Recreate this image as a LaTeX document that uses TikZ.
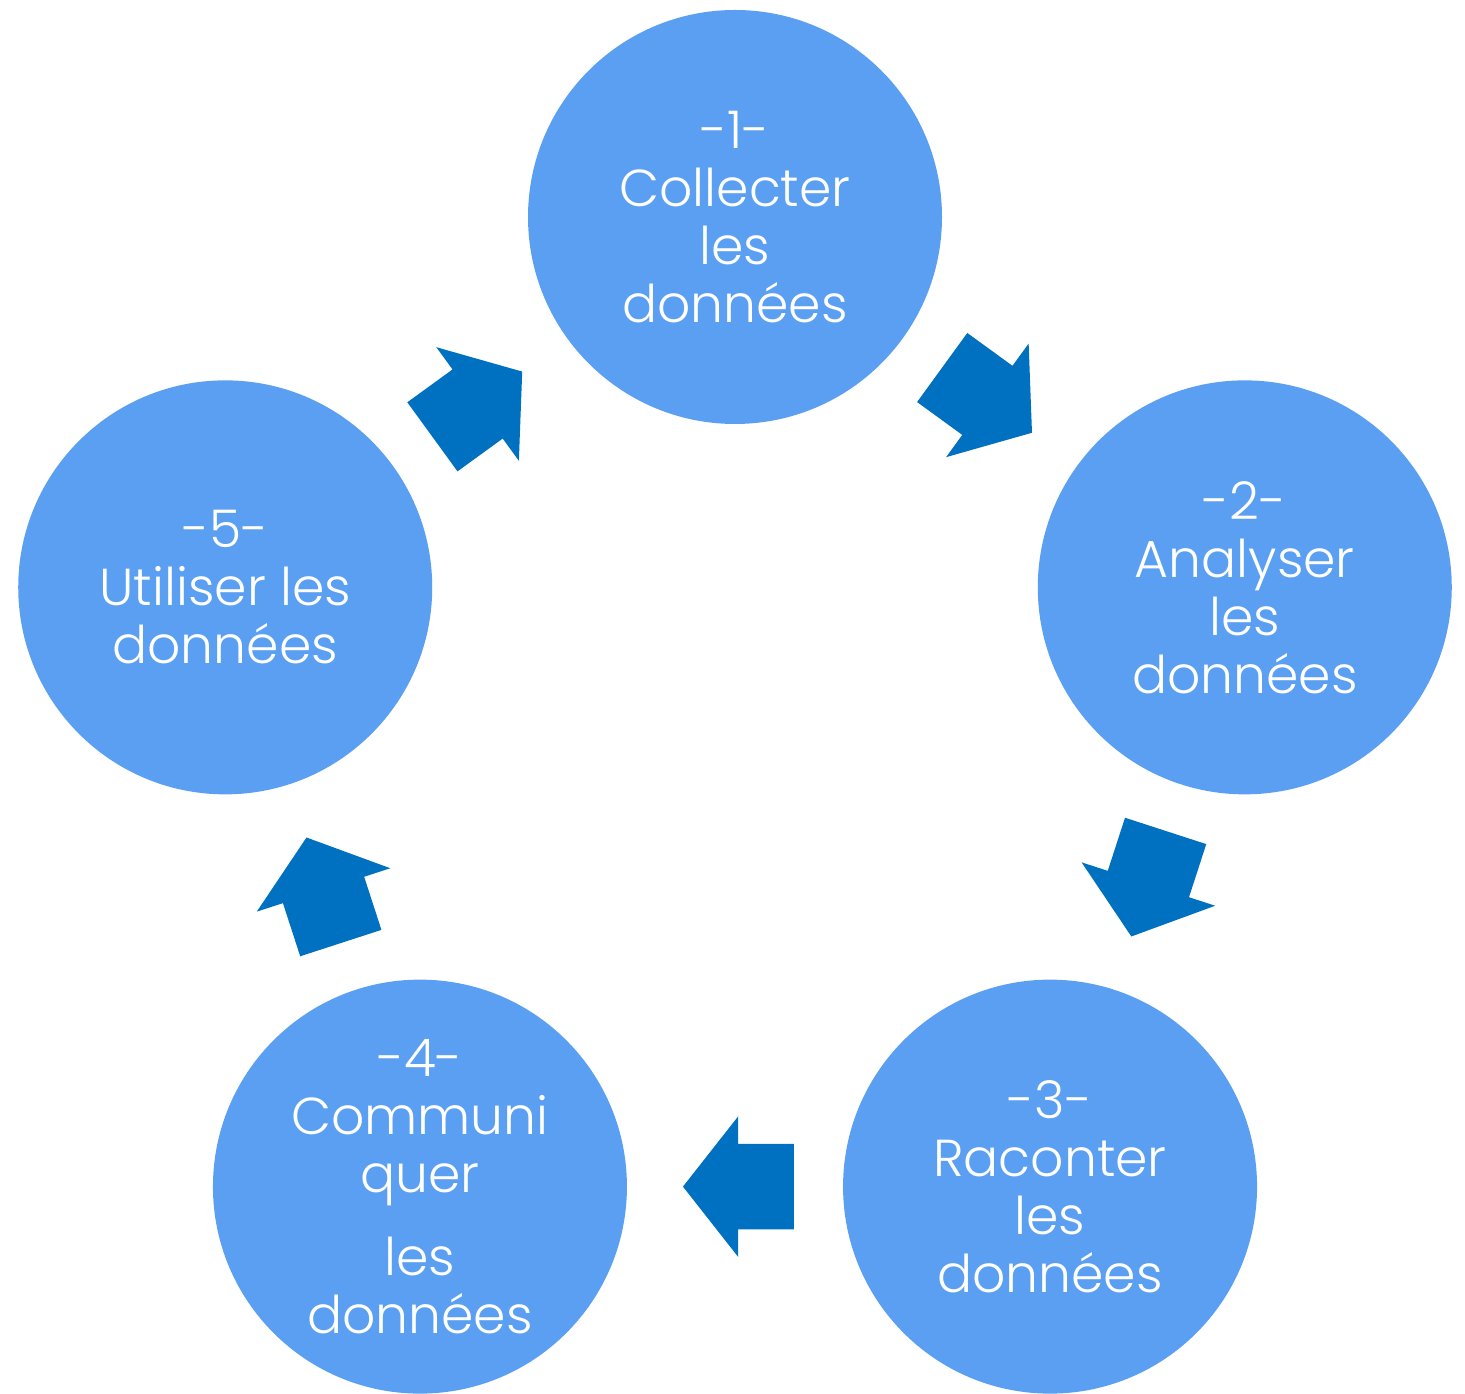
\documentclass[tikz,border=0pt]{standalone}
\usepackage{fontspec}
\setmainfont{Poppins Light}
\usepackage{tikz}
\usetikzlibrary{calc,shapes.arrows}

\definecolor{phaseblue}{HTML}{5B9FF2}
\definecolor{arrowblue}{HTML}{0070C0}

\begin{document}
\begin{tikzpicture}[
                    x=1pt,
                    y=1pt
                ]
                \tikzstyle{phase}=[circle,fill=phaseblue,draw=none,text=white,
                    minimum size=414pt,inner sep=0pt,align=center,
                    font=\fontsize{52}{58}\selectfont]
                \tikzstyle{cycle arrow}=[single arrow,fill=arrowblue,draw=none,anchor=tip,
                    minimum height=111pt,inner xsep=0pt,inner ysep=42.5pt,
                    single arrow head extend=27.5pt,single arrow tip angle=103.7]

                \useasboundingbox (0,0) rectangle (1465,1393);
                \coordinate (O) at (735,640);

                \node[phase] (P1) at ($(O)+(90:536pt)$)   {-1-\\Collecter\\les\\données};
                \node[phase] (P2) at ($(O)+(18:536pt)$)   {-2-\\Analyser\\les\\données};
                \node[phase] (P3) at ($(O)+(-54:536pt)$)  {-3-\\Raconter\\les\\données};
                \node[phase] (P4) at ($(O)+(-126:536pt)$) {-4-\\Communi\\quer\\[25pt]les\\données};
                \node[phase] (P5) at ($(O)+(162:536pt)$)  {-5-\\Utiliser les\\données};

                % arrows between the phases (tip placed past the middle)
                \node[cycle arrow,rotate=-36]  (A12) at ($(P1)!0.583!(P2)$) {};
                \node[cycle arrow,rotate=-108] (A23) at ($(P2)!0.583!(P3)$) {};
                \node[cycle arrow,rotate=180]  (A34) at ($(P3)!0.583!(P4)$) {};
                \node[cycle arrow,rotate=108]  (A45) at ($(P4)!0.583!(P5)$) {};
                \node[cycle arrow,rotate=36]   (A51) at ($(P5)!0.583!(P1)$) {};
            \end{tikzpicture}
\end{document}
